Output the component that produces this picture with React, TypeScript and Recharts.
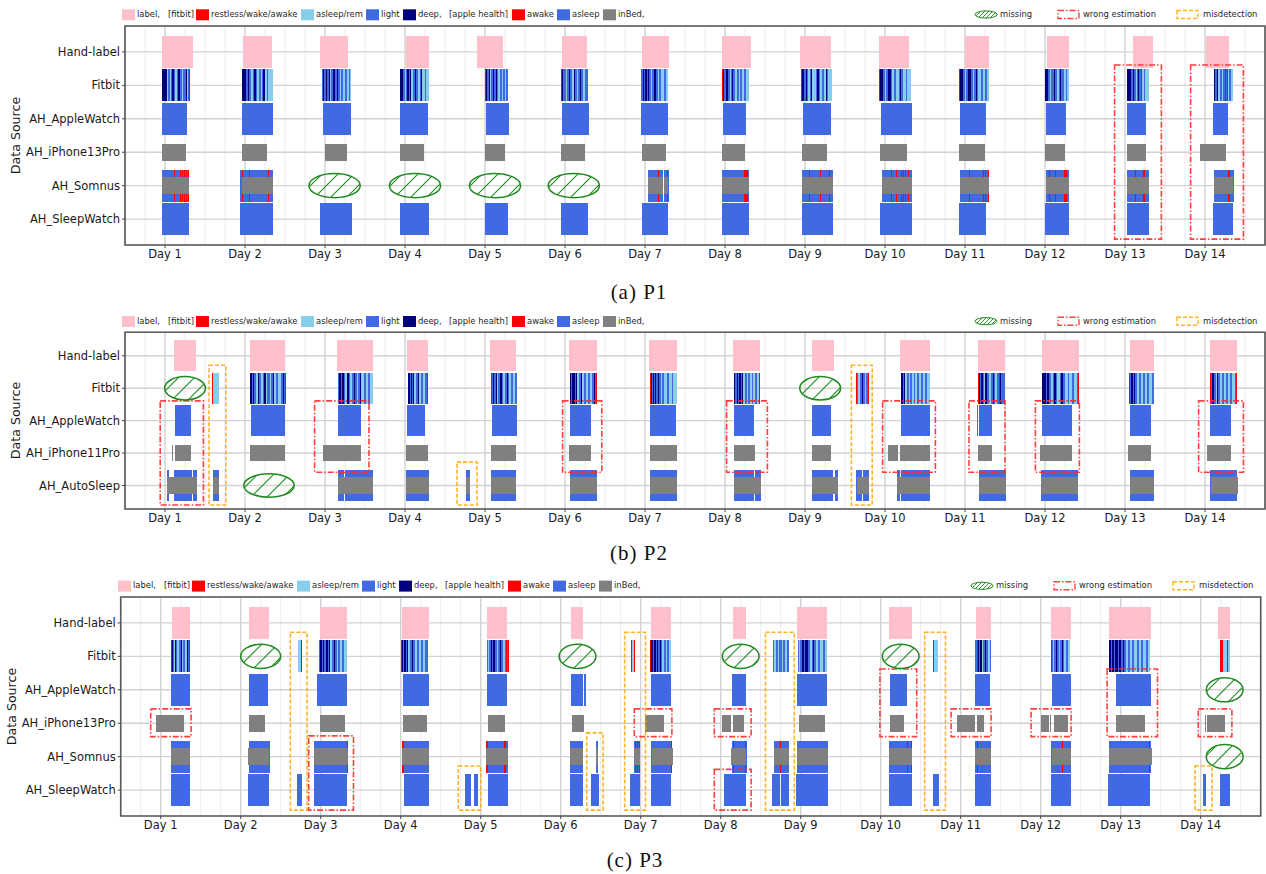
import React from 'react';
import { ComposedChart, XAxis, YAxis, CartesianGrid, ReferenceArea, Scatter } from 'recharts';

const FONT = 'DejaVu Sans, sans-serif';
const PINK = '#ffc0cb';
const RED = '#ff0000';
const SKY = '#87ceeb';
const BLUE = '#4169e1';
const NAVY = '#000080';
const GRAY = '#808080';
const GREEN = '#1f8a1f';
const WRONG_RED = '#ff2a2a';
const MIS_ORANGE = '#ffa500';

type Span = [number, number];
type Night = [number, string]; // onset (day units), stage run list "<stage><minutes>"
type Oval = [number, number, number]; // centre day, row, width in days
type Box = [number, number, number, number]; // x1, x2, row1, row2

const DAYS = [1, 2, 3, 4, 5, 6, 7, 8, 9, 10, 11, 12, 13, 14];
const ROWS_P1 = ['Hand-label', 'Fitbit', 'AH_AppleWatch', 'AH_iPhone13Pro', 'AH_Somnus', 'AH_SleepWatch'];
const ROWS_P2 = ['Hand-label', 'Fitbit', 'AH_AppleWatch', 'AH_iPhone11Pro', 'AH_AutoSleep'];
const ROWS_P3 = ['Hand-label', 'Fitbit', 'AH_AppleWatch', 'AH_iPhone13Pro', 'AH_Somnus', 'AH_SleepWatch'];

// ---------- (a) P1 ----------
const LABEL_A: Span[] = [[0.9625, 1.346], [1.975, 2.3375], [2.9375, 3.2875], [4.01, 4.3], [4.9, 5.23], [5.96, 6.28], [6.96, 7.3], [7.96, 8.32], [8.94, 9.33], [9.93, 10.3], [11.0, 11.3], [12.02, 12.3], [13.1, 13.35], [14.01, 14.3]];
const FITBIT_A: Night[] = [
  [0.9625, 'D84 R18 L36 R18 L30 D24 L30 R24 L24 D30 L36 R30 L42 D18 R24 L18 W18'],
  [1.96, 'D84 L30 D18 L42 R24 L30 D30 L24 R30 L30 R24 L24 D36 R30 L24 R82'],
  [2.96, 'L30 D18 L30 D12 L42 D18 R24 L36 D30 L30 D18 L36 R24 L30 R42 L36 R30 L24 R24'],
  [3.94, 'D54 L24 R18 L30 D24 L30 D18 R36 L30 D24 L36 R30 L24 D18 R42 L30 R50'],
  [5.0, 'W18 L6 D18 L30 D24 R18 L24 D30 L24 D18 L30 R36 L24 R30 L30 R24 L30'],
  [5.95, 'W18 D24 L42 R18 L36 D24 L42 R24 D24 L36 R24 L30 D18 L36 R30 L54'],
  [6.95, 'L36 D24 L12 D30 L18 D24 L36 R24 L30 D30 L42 R24 L30 R48 L36 R36'],
  [7.96, 'W18 D30 L30 D30 L36 R18 L24 D18 L36 R36 L30 R24 L42 R30 L36 R48'],
  [8.95, 'W18 D36 L30 D18 L30 R24 L24 D24 R60 L24 D30 L18 R48 L30 R42 D12 L24 R72'],
  [9.93, 'W18 D54 L30 R18 L42 D42 L30 R24 L36 R54 L24 D18 L36 R48 L30 R72'],
  [10.925, 'W18 D60 L24 R30 L36 D48 L30 R24 L30 D18 L24 R54 L30 R36 L36 R42'],
  [12.0, 'D60 L24 R30 L42 D30 L36 R24 L30 D18 L42 R36 L30 R30'],
  [13.03, 'D72 L30 D24 L24 R30 L18 D18 L24 W18 R36 L24 R78'],
  [14.11, 'D24 L30 D18 R36 D12 L30 R24 L30 W24 L12 W18 R24 L24 R36'],
];
const WATCH_A: Span[] = [[0.9625, 1.275], [1.9625, 2.35], [2.975, 3.325], [3.94, 4.29], [5.01, 5.3], [5.96, 6.3], [6.95, 7.29], [7.975, 8.26], [8.975, 9.325], [9.95, 10.34], [10.94, 11.26], [12.01, 12.26], [13.03, 13.26], [14.1, 14.29]];
const PHONE_A: Span[] = [[0.9625, 1.2625], [1.9625, 2.275], [3.0, 3.275], [3.94, 4.24], [5.0, 5.25], [5.95, 6.25], [6.96, 7.26], [7.96, 8.25], [8.96, 9.275], [9.94, 10.275], [10.925, 11.25], [12.0, 12.25], [13.03, 13.26], [13.94, 14.26]];
const SOMNUS_SLEEP_A: Span[] = [[0.9625, 1.3], [1.9375, 2.35], [7.0375, 7.225], [7.235, 7.3], [7.96, 8.3], [8.96, 9.35], [9.9625, 10.34], [10.94, 11.3], [12.01, 12.3], [13.03, 13.3], [14.11, 14.36]];
const SOMNUS_AWAKE_A: Span[] = [[1.107, 1.1195], [1.182, 1.1945], [1.207, 1.2195], [1.232, 1.2445], [1.257, 1.2695], [1.282, 1.2945], [1.958, 1.9705], [2.045, 2.0575], [2.282, 2.2945], [7.157, 7.1695], [7.27, 7.2825], [8.2375, 8.2875], [9.055, 9.0675], [9.185, 9.1975], [9.295, 9.3075], [10.07, 10.0825], [10.135, 10.1475], [10.195, 10.2075], [10.22, 10.2325], [10.245, 10.2575], [10.285, 10.2975], [11.055, 11.0675], [11.22, 11.2325], [11.255, 11.2675], [11.285, 11.2975], [12.055, 12.0675], [12.12, 12.1325], [12.24, 12.275], [13.12, 13.1325], [13.225, 13.25], [14.29, 14.31]];
const SOMNUS_BED_A: Span[] = [[0.9625, 1.3], [1.96, 2.35], [7.0375, 7.225], [7.235, 7.29], [7.96, 8.3], [8.96, 9.35], [9.9625, 10.34], [10.94, 11.3], [12.01, 12.3], [13.03, 13.3], [14.11, 14.35]];
const SLEEPWATCH_A: Span[] = [[0.9625, 1.3], [1.9375, 2.35], [2.9375, 3.3375], [3.94, 4.3], [5.0, 5.29], [5.95, 6.29], [6.96, 7.29], [7.96, 8.3], [8.96, 9.35], [9.94, 10.34], [10.925, 11.26], [12.0, 12.3], [13.03, 13.3], [14.1, 14.35]];
const MISSING_A: Oval[] = [[3.12, 4, 0.64], [4.125, 4, 0.64], [5.125, 4, 0.64], [6.11, 4, 0.64]];
const WRONG_A: Box[] = [[12.87, 13.455, 0.39, 5.6], [13.82, 14.48, 0.39, 5.6]];
const MISDETECT_A: Box[] = [];

// ---------- (b) P2 ----------
const LABEL_B: Span[] = [[1.1125, 1.3875], [2.0625, 2.5], [3.15, 3.6], [4.025, 4.29], [5.06, 5.39], [6.05, 6.4], [7.05, 7.4], [8.1, 8.44], [9.09, 9.36], [10.19, 10.56], [11.16, 11.5], [11.96, 12.43], [13.06, 13.36], [14.06, 14.4]];
const FITBIT_B: Night[] = [
  [1.59, 'W18 R102'],
  [2.0625, 'D30 L24 D24 L30 R30 D24 L36 R30 L24 D36 R24 L42 R30 L30 D24 R36 L36 R42 L36 D24 L18 W18'],
  [3.1625, 'L12 D42 L18 D30 L24 R30 D36 L30 R24 L36 D24 L30 R30 L36 D18 R42 L36 R48 L30 R54'],
  [4.04, 'D24 L18 D18 L30 D18 R30 L36 D24 R30 L36 R36 L30 R12 W18'],
  [5.075, 'W18 L12 D30 L24 D18 R30 L36 D24 L24 R36 L30 D18 L24 R42 L36 R30 L36'],
  [6.06, 'D30 L18 D42 L30 D18 R30 L36 D24 R30 L42 R36 L30 R42 L36 D18 L6 W18'],
  [7.06, 'W18 D18 L18 D30 L12 D24 L30 D24 L30 R24 L36 R48 L30 R54 L30 R60'],
  [8.11, 'D30 L24 D30 L18 D24 L30 D18 R30 L36 R24 L36 R30 L24 R36 L30 R30 W18'],
  [9.64, 'W18 L18 R36 L24 D30 L30 R24 L30 W24'],
  [10.2, 'D30 L18 D24 R36 L36 R24 L30 R36 L24 R30 L42 R36 L30 R42 L36 R48'],
  [11.16, 'W18 D18 L30 D24 L24 R24 D30 L36 R36 L30 D18 L30 R30 L36 W24 D18 L60'],
  [11.96, 'D72 L30 D30 L36 R36 L24 D24 L30 R42 L30 D30 L36 R48 L30 R42 L36 R54 L18 W18'],
  [13.05, 'W24 L18 D24 L24 D18 L30 R36 L42 R30 L36 R42 L36 R54 L36'],
  [14.06, 'W18 D12 L18 D30 L30 R24 D24 L36 R36 L30 R36 L42 R36 L36 R42 L18 W18'],
];
const WATCH_B: Span[] = [[1.125, 1.325], [2.075, 2.5], [3.1625, 3.45], [4.025, 4.25], [5.0875, 5.4], [6.06, 6.325], [7.06, 7.39], [8.11, 8.36], [9.09, 9.325], [10.2, 10.56], [11.1485, 11.161], [11.175, 11.34], [11.96, 12.34], [13.06, 13.33], [14.06, 14.33]];
const PHONE_B: Span[] = [[1.0825, 1.095], [1.125, 1.325], [2.0625, 2.5], [2.975, 3.45], [4.01, 4.29], [5.075, 5.39], [6.05, 6.325], [7.06, 7.4], [8.11, 8.375], [9.09, 9.325], [10.04, 10.16], [10.19, 10.56], [11.16, 11.34], [11.94, 12.34], [13.04, 13.33], [14.03, 14.33]];
const AUTO_SLEEP_B: Span[] = [[1.025, 1.05], [1.11, 1.34], [1.35, 1.4], [1.6, 1.675], [3.16, 3.24], [3.25, 3.6], [4.01, 4.3], [4.76, 4.81], [5.075, 5.39], [6.06, 6.4], [7.06, 7.4], [8.11, 8.36], [8.375, 8.45], [9.09, 9.35], [9.37, 9.41], [9.64, 9.71], [9.725, 9.8], [10.15, 10.19], [10.2, 10.56], [11.175, 11.51], [11.95, 12.41], [13.06, 13.36], [14.06, 14.4]];
const AUTO_BED_B: Span[] = [[1.025, 1.4], [1.6, 1.675], [3.16, 3.6], [4.01, 4.3], [4.76, 4.81], [5.075, 5.39], [6.06, 6.4], [7.06, 7.4], [8.11, 8.45], [9.09, 9.41], [9.65, 9.8], [10.15, 10.56], [11.175, 11.51], [11.95, 12.41], [13.06, 13.36], [14.075, 14.41]];
const MISSING_B: Oval[] = [[1.25, 1, 0.51], [2.3, 4, 0.63], [9.19, 1, 0.51]];
const WRONG_B: Box[] = [[0.94, 1.48, 1.39, 4.6], [2.87, 3.55, 1.39, 3.59], [5.97, 6.46, 1.39, 3.59], [8.02, 8.53, 1.39, 3.59], [9.97, 10.63, 1.39, 3.59], [11.05, 11.5, 1.39, 3.59], [11.88, 12.43, 1.39, 3.59], [13.92, 14.48, 1.39, 3.59]];
const MISDETECT_B: Box[] = [[1.55, 1.76, 0.29, 4.6], [4.65, 4.9, 3.28, 4.6], [9.58, 9.84, 0.29, 4.6]];

// ---------- (c) P3 ----------
const LABEL_C: Span[] = [[1.14, 1.37], [2.1, 2.35], [2.99, 3.33], [4.02, 4.35], [5.08, 5.33], [6.13, 6.28], [7.13, 7.38], [8.15, 8.32], [8.95, 9.33], [10.1, 10.39], [11.19, 11.38], [12.13, 12.38], [12.85, 13.38], [14.22, 14.37]];
const FITBIT_C: Night[] = [
  [1.13, 'W18 D12 L18 R30 D12 L24 R36 L24 D18 R30 L24 R42 D24 L18 W18'],
  [2.72, 'R54 W18'],
  [2.98, 'L18 D30 L18 D24 L30 D36 L24 D24 R36 L30 D24 L24 R30 L30 R42 L36 R48'],
  [4.0, 'W18 D18 L30 D30 L24 D18 R30 L36 D24 L30 R36 L42 R30 L36 R36 L48'],
  [5.08, 'L24 R18 L30 D24 L18 D30 L30 R30 L24 D18 L36 R36 L24 W18 L24 W18'],
  [6.88, 'W18 R36 W18'],
  [7.12, 'W18 D24 L18 D36 L18 D24 L30 D18 L30 R36 L24 R30 L36 R36'],
  [8.65, 'L30 R24 L36 R30 L42 R24 L36 R30 L36'],
  [8.96, 'L24 R18 L30 D42 L24 D48 L30 R36 L24 D18 L36 R42 L36 R48 L30 R36'],
  [10.65, 'W18 R72'],
  [11.18, 'L30 W18 D18 L24 D30 R24 L36 D24 L30 R42 L18'],
  [12.13, 'W18 L24 R18 L24 D30 L24 R24 L30 D24 L24 R36 L30 R36'],
  [12.85, 'D48 L18 D30 L24 D42 L18 D48 L24 D30 L36 R30 L36 R42 L30 R48 L42 R36 L30 R60 L30 R36'],
  [14.24, 'W54 R72 W18 R36'],
];
const WATCH_C: Span[] = [[1.13, 1.37], [2.1, 2.34], [2.95, 3.33], [4.03, 4.35], [5.08, 5.33], [6.13, 6.28], [6.29, 6.32], [7.13, 7.38], [8.14, 8.32], [8.95, 9.33], [10.12, 10.33], [11.18, 11.37], [12.14, 12.38], [12.94, 13.38]];
const PHONE_C: Span[] = [[0.94, 1.29], [2.1, 2.3], [2.99, 3.3], [4.03, 4.33], [5.09, 5.3], [6.14, 6.29], [7.05, 7.29], [8.02, 8.13], [8.15, 8.29], [8.98, 9.3], [10.12, 10.29], [10.95, 11.18], [11.2, 11.29], [12.0, 12.1], [12.1175, 12.13], [12.17, 12.34], [12.94, 13.3], [14.0475, 14.06], [14.08, 14.26], [14.27, 14.3]];
const SOMNUS_SLEEP_C: Span[] = [[1.13, 1.37], [2.1, 2.37], [2.92, 3.34], [4.02, 4.35], [5.07, 5.34], [6.11, 6.28], [6.44, 6.47], [6.92, 6.99], [7.13, 7.39], [8.14, 8.33], [8.67, 8.85], [8.95, 9.34], [10.1, 10.39], [11.18, 11.38], [12.13, 12.38], [12.85, 13.38]];
const SOMNUS_AWAKE_C: Span[] = [[3.3275, 3.34], [4.02, 4.04], [5.07, 5.09], [5.29, 5.31], [6.925, 6.9375], [6.95, 6.9625], [6.975, 6.99], [7.3775, 7.39], [8.155, 8.1675], [8.305, 8.3175], [8.74, 8.7525], [10.325, 10.3375], [10.375, 10.3875], [11.2, 11.2125], [12.27, 12.2825], [13.3575, 13.37]];
const SOMNUS_BED_C: Span[] = [[1.13, 1.37], [2.09, 2.35], [2.92, 3.34], [4.02, 4.35], [5.07, 5.34], [6.11, 6.28], [6.445, 6.465], [6.92, 6.99], [7.14, 7.4], [8.13, 8.32], [8.67, 8.85], [8.95, 9.34], [10.1, 10.39], [11.18, 11.38], [12.14, 12.38], [12.85, 13.39]];
const SLEEPWATCH_C: Span[] = [[1.13, 1.37], [2.09, 2.35], [2.7, 2.77], [2.92, 3.33], [4.04, 4.35], [4.8, 4.88], [4.92, 4.97], [5.09, 5.34], [6.11, 6.28], [6.38, 6.48], [6.87, 6.99], [7.13, 7.38], [8.04, 8.32], [8.64, 8.74], [8.75, 8.85], [8.94, 9.34], [10.1, 10.39], [10.65, 10.73], [11.18, 11.38], [12.13, 12.38], [12.84, 13.37], [14.03, 14.07], [14.24, 14.37]];
const MISSING_C: Oval[] = [[2.25, 1, 0.5], [6.21, 1, 0.46], [8.25, 1, 0.46], [10.25, 1, 0.46], [14.3, 2, 0.46], [14.3, 4, 0.46]];
const WRONG_C: Box[] = [[0.875, 1.38, 2.57, 3.4], [2.85, 3.41, 3.38, 5.6], [6.92, 7.39, 2.57, 3.4], [7.92, 8.38, 2.57, 3.4], [7.92, 8.38, 4.38, 5.6], [9.99, 10.45, 1.38, 3.4], [10.88, 11.38, 2.57, 3.4], [11.88, 12.38, 2.57, 3.4], [12.83, 13.46, 1.38, 3.4], [13.97, 14.39, 2.57, 3.4]];
const MISDETECT_C: Box[] = [[2.62, 2.83, 0.28, 5.6], [4.72, 5.0, 4.28, 5.6], [6.325, 6.53, 3.29, 5.6], [6.8, 7.06, 0.28, 5.6], [8.56, 8.92, 0.28, 5.6], [10.55, 10.81, 0.28, 5.6], [13.93, 14.14, 4.28, 5.6]];

const X_DOMAIN: [number, number] = [0.5, 14.75];
const FULL = 0.475;
const HALF = 0.25;
const OVAL_H = 0.36;

// minor grid every 6 hours
const MINOR: number[] = [];
for (let d = 0; d <= 14; d++) {
  [0.25, 0.5, 0.75].forEach((q) => {
    if (d + q >= X_DOMAIN[0] && d + q <= X_DOMAIN[1]) MINOR.push(d + q);
  });
}

const STAGE_COLOR: Record<string, string> = { W: RED, R: SKY, L: BLUE, D: NAVY };

function fitbitSegments(nights: Night[]) {
  const out: { a: number; b: number; c: string }[] = [];
  nights.forEach(([start, seq]) => {
    let t = start;
    seq.split(' ').forEach((tok) => {
      const len = Number(tok.slice(1)) / 1440;
      out.push({ a: t, b: t + len, c: STAGE_COLOR[tok[0]] });
      t += len;
    });
  });
  return out;
}

const minorGen = (p: any) => {
  const s = p?.xAxis?.scale;
  if (!s) return [];
  const f = typeof s === 'function' ? s : (v: number) => s.map(v);
  return MINOR.map((v) => f(v)).filter((v: number) => Number.isFinite(v));
};

const ovalShape = (p: any) => (
  <ellipse
    cx={p.x + p.width / 2}
    cy={p.y + p.height / 2}
    rx={Math.abs(p.width) / 2}
    ry={Math.abs(p.height) / 2}
    fill="url(#hatchBig)"
    stroke={GREEN}
    strokeWidth={1.5}
  />
);

interface Fill {
  data: Span[];
  row: number;
  half: number;
  color: string;
}

interface PanelProps {
  id: string;
  top: number;
  height: number;
  margin: { top: number; right: number; left: number; bottom: number };
  rows: string[];
  yDomain: [number, number];
  fills: Fill[];
  fitbit: Night[];
  missing: Oval[];
  wrong: Box[];
  misdetect: Box[];
}

const ANCHOR = [{ x: 1, y: 0 }];

function Panel({ id, top, height, margin, rows, yDomain, fills, fitbit, missing, wrong, misdetect }: PanelProps) {
  const segs = fitbitSegments(fitbit);
  return (
    <div style={{ position: 'absolute', left: 0, top, width: 1266, height }}>
      <ComposedChart width={1266} height={height} margin={margin} style={{ fontFamily: FONT }}>
        <CartesianGrid horizontal={false} stroke="#ececec" strokeWidth={1} verticalCoordinatesGenerator={minorGen} />
        <CartesianGrid stroke="#d2d2d2" strokeWidth={1.4} />
        <XAxis
          type="number"
          dataKey="x"
          domain={X_DOMAIN}
          allowDataOverflow
          ticks={DAYS}
          interval={0}
          tickFormatter={(d: number) => `Day ${d}`}
          tick={{ fontSize: 11.5, fill: '#1a1a1a', fontFamily: FONT }}
          tickLine={{ stroke: '#444' }}
          tickSize={3}
          axisLine={false}
          height={25}
        />
        <YAxis
          type="number"
          dataKey="y"
          domain={yDomain}
          allowDataOverflow
          reversed
          ticks={rows.map((_, i) => i)}
          interval={0}
          tickFormatter={(v: number) => rows[Math.round(v)] ?? ''}
          tick={{ fontSize: 11.5, fill: '#1a1a1a', fontFamily: FONT }}
          tickLine={{ stroke: '#444' }}
          tickSize={3}
          axisLine={false}
          width={115}
        />
        <Scatter data={ANCHOR} isAnimationActive={false} shape={() => <g />} />
        {fills.map((f, fi) =>
          f.data.map(([a, b], i) => (
            <ReferenceArea
              key={`${id}-f${fi}-${i}`}
              x1={a}
              x2={b}
              y1={f.row - f.half}
              y2={f.row + f.half}
              fill={f.color}
              fillOpacity={1}
              stroke="none"
              shapeRendering="crispEdges"
            />
          ))
        )}
        {segs.map((s, i) => (
          <ReferenceArea
            key={`${id}-fb-${i}`}
            x1={s.a}
            x2={s.b}
            y1={1 - FULL}
            y2={1 + FULL}
            fill={s.c}
            fillOpacity={1}
            stroke="none"
            shapeRendering="crispEdges"
          />
        ))}
        <ReferenceArea x1={X_DOMAIN[0]} x2={X_DOMAIN[1]} y1={yDomain[0]} y2={yDomain[1]} fill="none" stroke="#5a5a5a" strokeWidth={1.6} />
        {wrong.map(([a, b, r1, r2], i) => (
          <ReferenceArea
            key={`${id}-w-${i}`}
            x1={a}
            x2={b}
            y1={r1}
            y2={r2}
            fill="none"
            stroke={WRONG_RED}
            strokeOpacity={0.9}
            strokeWidth={1.6}
            strokeDasharray="6 2 1.5 2"
          />
        ))}
        {misdetect.map(([a, b, r1, r2], i) => (
          <ReferenceArea
            key={`${id}-m-${i}`}
            x1={a}
            x2={b}
            y1={r1}
            y2={r2}
            fill="none"
            stroke={MIS_ORANGE}
            strokeOpacity={0.85}
            strokeWidth={1.6}
            strokeDasharray="4 2"
          />
        ))}
        {missing.map(([cx, row, w], i) => (
          <ReferenceArea
            key={`${id}-o-${i}`}
            x1={cx - w / 2}
            x2={cx + w / 2}
            y1={row - OVAL_H}
            y2={row + OVAL_H}
            shape={ovalShape}
          />
        ))}
      </ComposedChart>
    </div>
  );
}

function Legend({ y, dx }: { y: number; dx: number }) {
  const sq = (x: number, c: string) => <rect x={x + dx} y={y - 4.7} width={13} height={11} fill={c} />;
  const tx = (x: number, s: string) => (
    <text x={x + dx} y={y} dominantBaseline="central" fontSize={8.4} fill="#262626" fontFamily={FONT}>
      {s}
    </text>
  );
  return (
    <g>
      {sq(122, PINK)}
      {tx(137, 'label,')}
      {tx(168, '[fitbit]')}
      {sq(196, RED)}
      {tx(211, 'restless/wake/awake')}
      {sq(301, SKY)}
      {tx(316, 'asleep/rem')}
      {sq(366, BLUE)}
      {tx(381, 'light')}
      {sq(403, NAVY)}
      {tx(418, 'deep,')}
      {tx(449, '[apple health]')}
      {sq(512, RED)}
      {tx(527, 'awake')}
      {sq(557, BLUE)}
      {tx(572, 'asleep')}
      {sq(603, GRAY)}
      {tx(618, 'inBed,')}
      <ellipse cx={986 + dx} cy={y + 0.5} rx={11} ry={3.6} fill="url(#hatchSmall)" stroke={GREEN} strokeWidth={1} />
      {tx(1000, 'missing')}
      <rect x={1058 + dx} y={y - 3.5} width={21} height={8} fill="none" stroke={WRONG_RED} strokeOpacity={0.9} strokeWidth={1.4} strokeDasharray="6 2 1.5 2" />
      {tx(1083, 'wrong estimation')}
      <rect x={1177 + dx} y={y - 3.5} width={21} height={8} fill="none" stroke={MIS_ORANGE} strokeOpacity={0.85} strokeWidth={1.4} strokeDasharray="4 2" />
      {tx(1203, 'misdetection')}
    </g>
  );
}

function Caption({ x, y, text }: { x: number; y: number; text: string }) {
  return (
    <text x={x} y={y} textAnchor="middle" dominantBaseline="central" fontSize={21} letterSpacing={1} fill="#111" fontFamily="Liberation Serif, serif">
      {text}
    </text>
  );
}

function SourceLabel({ x, y }: { x: number; y: number }) {
  return (
    <text x={x} y={y} transform={`rotate(-90 ${x} ${y})`} textAnchor="middle" dominantBaseline="central" fontSize={12.6} fill="#1a1a1a" fontFamily={FONT}>
      Data Source
    </text>
  );
}

export default function App() {
  return (
    <div style={{ position: 'absolute', left: 0, top: 0, width: 1266, height: 874, background: '#fff', overflow: 'hidden' }}>
      <svg width={0} height={0} style={{ position: 'absolute' }}>
        <defs>
          <pattern id="hatchBig" patternUnits="userSpaceOnUse" width={16} height={16}>
            <path d="M0,16 L16,0 M-4,4 L4,-4 M12,20 L20,12" stroke={GREEN} strokeWidth={1.1} />
          </pattern>
          <pattern id="hatchSmall" patternUnits="userSpaceOnUse" width={4} height={4}>
            <path d="M0,4 L4,0 M-1,1 L1,-1 M3,5 L5,3" stroke={GREEN} strokeWidth={0.9} />
          </pattern>
        </defs>
      </svg>

      <Panel
        id="a"
        top={0}
        height={270}
        margin={{ top: 26, right: 1, left: 10, bottom: 0 }}
        rows={ROWS_P1}
        yDomain={[-0.775, 5.775]}
        fills={[
          { data: LABEL_A, row: 0, half: FULL, color: PINK },
          { data: WATCH_A, row: 2, half: FULL, color: BLUE },
          { data: PHONE_A, row: 3, half: HALF, color: GRAY },
          { data: SOMNUS_SLEEP_A, row: 4, half: FULL, color: BLUE },
          { data: SOMNUS_AWAKE_A, row: 4, half: FULL, color: RED },
          { data: SOMNUS_BED_A, row: 4, half: HALF, color: GRAY },
          { data: SLEEPWATCH_A, row: 5, half: FULL, color: BLUE },
        ]}
        fitbit={FITBIT_A}
        missing={MISSING_A}
        wrong={WRONG_A}
        misdetect={MISDETECT_A}
      />

      <Panel
        id="b"
        top={300}
        height={234}
        margin={{ top: 32.3, right: 1, left: 10, bottom: 0 }}
        rows={ROWS_P2}
        yDomain={[-0.725, 4.725]}
        fills={[
          { data: LABEL_B, row: 0, half: FULL, color: PINK },
          { data: WATCH_B, row: 2, half: FULL, color: BLUE },
          { data: PHONE_B, row: 3, half: HALF, color: GRAY },
          { data: AUTO_SLEEP_B, row: 4, half: FULL, color: BLUE },
          { data: AUTO_BED_B, row: 4, half: HALF, color: GRAY },
        ]}
        fitbit={FITBIT_B}
        missing={MISSING_B}
        wrong={WRONG_B}
        misdetect={MISDETECT_B}
      />

      <Panel
        id="c"
        top={570}
        height={271}
        margin={{ top: 27, right: 5.3, left: 5.7, bottom: 0 }}
        rows={ROWS_P3}
        yDomain={[-0.775, 5.775]}
        fills={[
          { data: LABEL_C, row: 0, half: FULL, color: PINK },
          { data: WATCH_C, row: 2, half: FULL, color: BLUE },
          { data: PHONE_C, row: 3, half: HALF, color: GRAY },
          { data: SOMNUS_SLEEP_C, row: 4, half: FULL, color: BLUE },
          { data: SOMNUS_AWAKE_C, row: 4, half: FULL, color: RED },
          { data: SOMNUS_BED_C, row: 4, half: HALF, color: GRAY },
          { data: SLEEPWATCH_C, row: 5, half: FULL, color: BLUE },
        ]}
        fitbit={FITBIT_C}
        missing={MISSING_C}
        wrong={WRONG_C}
        misdetect={MISDETECT_C}
      />

      <svg width={1266} height={874} style={{ position: 'absolute', left: 0, top: 0, pointerEvents: 'none' }}>
        <Legend y={14} dx={0} />
        <Legend y={320.7} dx={0} />
        <Legend y={585.3} dx={-4} />
        <SourceLabel x={15} y={135.5} />
        <SourceLabel x={15} y={420.5} />
        <SourceLabel x={11.7} y={706.5} />
        <Caption x={639} y={292} text="(a) P1" />
        <Caption x={639} y={553} text="(b) P2" />
        <Caption x={635} y={860} text="(c) P3" />
      </svg>
    </div>
  );
}
